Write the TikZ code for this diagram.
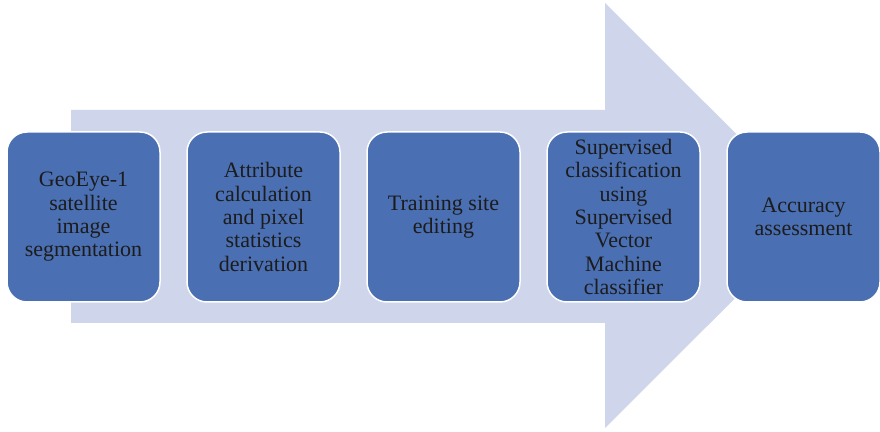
\documentclass[tikz,border=0pt]{standalone}
\usepackage{fontspec}
\setmainfont{Liberation Serif}
\usetikzlibrary{positioning}

\definecolor{stepblue}{HTML}{4A6FB3}
\definecolor{flowbg}{HTML}{CFD5EA}
\definecolor{steptext}{HTML}{1C1C1C}

\tikzset{
  stepbox/.style={draw=white, line width=1.5pt, fill=stepblue,
    rounded corners=20pt, minimum width=153pt, minimum height=170pt,
    outer sep=0pt, align=center, text=steptext,
    font=\fontsize{22}{23.3}\selectfont},
}

\begin{document}
\begin{tikzpicture}[x=1pt,y=1pt]
    \useasboundingbox (0,0) rectangle (880,431);

    % background arrow
    \fill[flowbg] (71,108) -- (71,321) -- (605,321) -- (605,428)
        -- (818,215.5) -- (605,3) -- (605,108) -- cycle;

    % process steps
    \node[stepbox] (seg) at (83.5,214) {GeoEye-1\\satellite\\image\\segmentation};
    \node[stepbox, right=27pt of seg] (attr) {Attribute\\calculation\\and pixel\\statistics\\derivation};
    \node[stepbox, right=27pt of attr] (train) {Training site\\editing};
    \node[stepbox, right=27pt of train] (svm) {Supervised\\classification\\using\\Supervised\\Vector\\Machine\\classifier};
    \node[stepbox, right=27pt of svm] (acc) {Accuracy\\assessment};
\end{tikzpicture}
\end{document}
